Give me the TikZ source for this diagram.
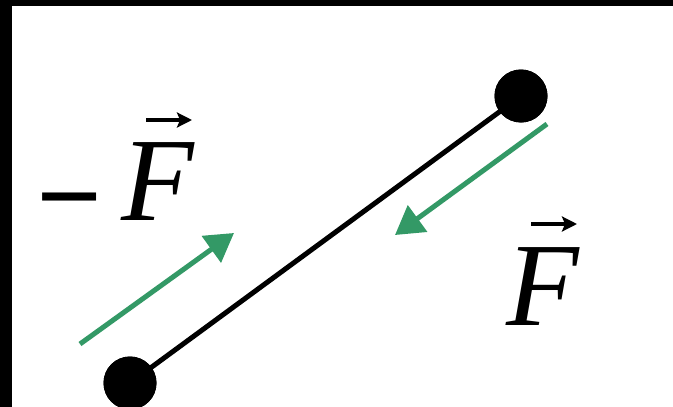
\documentclass[tikz,border=0pt]{standalone}
\usepackage{fontspec}
\setmainfont{Liberation Serif}
\usetikzlibrary{arrows.meta}
\definecolor{fgreen}{HTML}{339966}
\begin{document}
\begin{tikzpicture}[x=1pt,y=-1pt,
  mass/.style={circle,fill=black,minimum size=53pt,inner sep=0pt},
  force/.style={draw=fgreen,line width=5pt,-{Triangle[length=28pt,width=32pt,fill=fgreen]}},
  vecarrow/.style={line width=4pt,-{Stealth[length=15pt,width=15pt,inset=3pt]}},
  lbl/.style={font=\fontsize{119}{119}\selectfont\itshape,inner sep=0pt,anchor=base}]
\useasboundingbox (0,0) rectangle (673,407);
\fill[white] (0,0) rectangle (673,407);
\fill[black] (0,0) rectangle (673,6);
\fill[black] (0,0) rectangle (12,407);
\node[mass] (m1) at (130,383) {};
\node[mass] (m2) at (521,96) {};
\draw[line width=5pt] (m1.center) -- (m2.center);
\node[mass] at (m1) {};
\node[mass] at (m2) {};
\coordinate (a1s) at (80,344);
\coordinate (a1e) at (234,233);
\coordinate (a2s) at (547,124);
\coordinate (a2e) at (395,235);
\draw[force] (a1s) -- (a1e);
\draw[force] (a2s) -- (a2e);
\node[font=\fontsize{116}{116}\selectfont\bfseries,inner sep=0pt] (minus) at (70,214) {−};
\node[lbl] (fl) at (158,220) {F};
\node[lbl] (fr) at (543,325) {F};
\coordinate (vl1) at (146,120);
\coordinate (vl2) at (192,120);
\coordinate (vr1) at (531,224);
\coordinate (vr2) at (577,224);
\draw[vecarrow] (vl1) -- (vl2);
\draw[vecarrow] (vr1) -- (vr2);
\end{tikzpicture}
\end{document}
